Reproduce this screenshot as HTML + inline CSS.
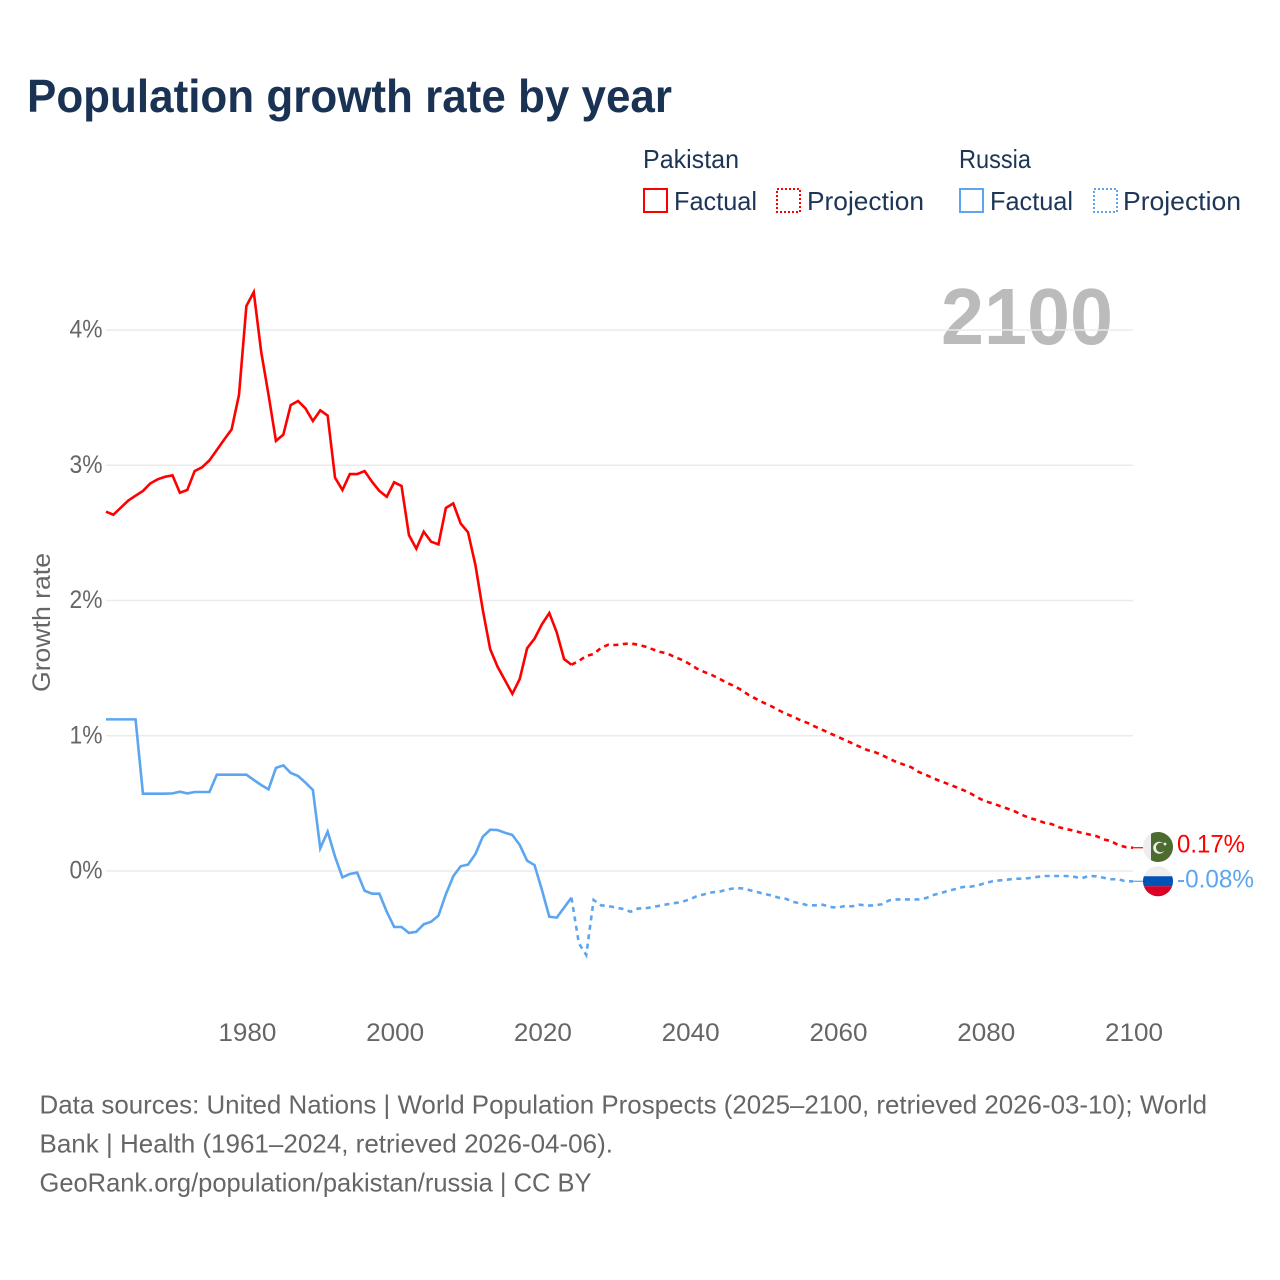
<!DOCTYPE html>
<html lang="en">
<head>
<meta charset="utf-8">
<title>Population growth rate by year</title>
<style>
html,body{margin:0;padding:0;background:#fff;}
svg{display:block;font-family:"Liberation Sans",sans-serif;}
</style>
</head>
<body>
<svg id="chart" width="1280" height="1280" viewBox="0 0 1280 1280" xmlns="http://www.w3.org/2000/svg">
  <rect width="1280" height="1280" fill="#fff"/>
  <text x="27" y="112" font-size="46" font-weight="700" fill="#1a3354" textLength="645" lengthAdjust="spacingAndGlyphs">Population growth rate by year</text>

  <g font-size="26" fill="#1d3557">
    <text x="643" y="168" textLength="96" lengthAdjust="spacingAndGlyphs">Pakistan</text>
    <text x="959" y="168" textLength="72" lengthAdjust="spacingAndGlyphs">Russia</text>
    <g>
      <rect x="644" y="189" width="23" height="23" fill="none" stroke="#ff0000" stroke-width="2"/>
      <text x="674" y="210" textLength="83" lengthAdjust="spacingAndGlyphs">Factual</text>
    </g>
    <g>
      <rect x="777" y="189" width="23" height="23" fill="none" stroke="#ff0000" stroke-width="2" stroke-dasharray="2 2"/>
      <text x="807" y="210" textLength="117" lengthAdjust="spacingAndGlyphs">Projection</text>
    </g>
    <g>
      <rect x="960" y="189" width="23" height="23" fill="none" stroke="#5ba6ef" stroke-width="2"/>
      <text x="990" y="210" textLength="83" lengthAdjust="spacingAndGlyphs">Factual</text>
    </g>
    <g>
      <rect x="1094" y="189" width="23" height="23" fill="none" stroke="#5ba6ef" stroke-width="2" stroke-dasharray="2 2"/>
      <text x="1123" y="210" textLength="118" lengthAdjust="spacingAndGlyphs">Projection</text>
    </g>
  </g>

  <text x="941" y="344" font-size="80" font-weight="700" fill="#bbbbbb" textLength="172" lengthAdjust="spacingAndGlyphs">2100</text>
  <text transform="translate(50,692) rotate(-90)" font-size="25" fill="#666666" textLength="139" lengthAdjust="spacingAndGlyphs">Growth rate</text>

  <g id="grid"></g>
  <g id="yticks"></g>
  <g id="xticks"></g>
  <g id="series"></g>
  <g id="endmarks"></g>

  <g font-size="26" fill="#666666">
    <text x="39.5" y="1113.5" textLength="1167.5" lengthAdjust="spacingAndGlyphs">Data sources: United Nations | World Population Prospects (2025–2100, retrieved 2026-03-10); World</text>
    <text x="39.5" y="1152.5" textLength="573.5" lengthAdjust="spacingAndGlyphs">Bank | Health (1961–2024, retrieved 2026-04-06).</text>
    <text x="39.5" y="1191.5" textLength="552" lengthAdjust="spacingAndGlyphs">GeoRank.org/population/pakistan/russia | CC BY</text>
  </g>
</svg>

<script>
const yTickValues = [0, 1, 2, 3, 4];
const yTickLabels = ["0%", "1%", "2%", "3%", "4%"];
const xTickYears = [1980, 2000, 2020, 2040, 2060, 2080, 2100];
const xTickLabels = ["1980", "2000", "2020", "2040", "2060", "2080", "2100"];

const factualYears = [1961,1962,1963,1964,1965,1966,1967,1968,1969,1970,1971,1972,1973,1974,1975,1976,1977,1978,1979,1980,1981,1982,1983,1984,1985,1986,1987,1988,1989,1990,1991,1992,1993,1994,1995,1996,1997,1998,1999,2000,2001,2002,2003,2004,2005,2006,2007,2008,2009,2010,2011,2012,2013,2014,2015,2016,2017,2018,2019,2020,2021,2022,2023,2024];
const projectionYears = [2024,2025,2026,2027,2028,2029,2030,2031,2032,2033,2034,2035,2036,2037,2038,2039,2040,2041,2042,2043,2044,2045,2046,2047,2048,2049,2050,2051,2052,2053,2054,2055,2056,2057,2058,2059,2060,2061,2062,2063,2064,2065,2066,2067,2068,2069,2070,2071,2072,2073,2074,2075,2076,2077,2078,2079,2080,2081,2082,2083,2084,2085,2086,2087,2088,2089,2090,2091,2092,2093,2094,2095,2096,2097,2098,2099,2100];

const pakistanFactual = [2.657,2.634,2.686,2.738,2.775,2.81,2.866,2.896,2.915,2.925,2.797,2.817,2.957,2.985,3.036,3.113,3.19,3.265,3.52,4.177,4.28,3.84,3.52,3.18,3.226,3.445,3.475,3.42,3.327,3.406,3.367,2.908,2.817,2.935,2.935,2.957,2.878,2.81,2.767,2.874,2.847,2.484,2.383,2.509,2.435,2.415,2.684,2.718,2.57,2.504,2.262,1.93,1.64,1.51,1.41,1.31,1.42,1.647,1.718,1.824,1.907,1.765,1.567,1.525];
const pakistanProjection = [1.525,1.553,1.59,1.604,1.65,1.673,1.671,1.678,1.683,1.673,1.659,1.639,1.62,1.607,1.582,1.56,1.53,1.496,1.471,1.449,1.422,1.392,1.368,1.338,1.301,1.272,1.244,1.22,1.19,1.163,1.141,1.114,1.094,1.067,1.043,1.018,0.993,0.969,0.944,0.919,0.895,0.88,0.858,0.83,0.806,0.786,0.767,0.732,0.71,0.685,0.663,0.643,0.621,0.599,0.574,0.542,0.515,0.5,0.48,0.461,0.441,0.414,0.392,0.377,0.357,0.347,0.323,0.31,0.298,0.283,0.271,0.259,0.234,0.222,0.192,0.177,0.172];
const russiaFactual = [1.121,1.121,1.121,1.121,1.121,0.572,0.572,0.572,0.572,0.574,0.586,0.574,0.584,0.584,0.584,0.712,0.712,0.712,0.712,0.712,0.673,0.636,0.604,0.762,0.781,0.725,0.702,0.653,0.599,0.168,0.291,0.106,-0.047,-0.022,-0.012,-0.146,-0.168,-0.168,-0.301,-0.414,-0.414,-0.458,-0.449,-0.394,-0.375,-0.33,-0.172,-0.039,0.035,0.047,0.126,0.254,0.305,0.303,0.283,0.266,0.192,0.076,0.044,-0.14,-0.338,-0.345,-0.271,-0.197];
const russiaProjection = [-0.197,-0.535,-0.621,-0.214,-0.254,-0.259,-0.271,-0.281,-0.301,-0.278,-0.276,-0.266,-0.256,-0.246,-0.237,-0.227,-0.21,-0.185,-0.172,-0.158,-0.153,-0.138,-0.128,-0.128,-0.14,-0.153,-0.168,-0.18,-0.197,-0.205,-0.229,-0.239,-0.254,-0.254,-0.249,-0.266,-0.271,-0.259,-0.261,-0.249,-0.256,-0.254,-0.246,-0.217,-0.21,-0.21,-0.21,-0.21,-0.2,-0.177,-0.163,-0.146,-0.133,-0.118,-0.116,-0.106,-0.089,-0.076,-0.069,-0.064,-0.057,-0.057,-0.052,-0.044,-0.037,-0.037,-0.037,-0.037,-0.042,-0.054,-0.037,-0.039,-0.05,-0.061,-0.061,-0.076,-0.076];

const pakistanEndLabel = "0.17%";
const russiaEndLabel = "-0.08%";

const SVG_NS = "http://www.w3.org/2000/svg";
const PLOT_LEFT = 106, PLOT_RIGHT = 1133, YEAR_MIN = 1961, YEAR_MAX = 2100;
const Y_ZERO = 871, PX_PER_PERCENT = 135.25;
const RED = "#ff0000", BLUE = "#5ba6ef";

function xScale(year) {
  return PLOT_LEFT + (year - YEAR_MIN) * (PLOT_RIGHT - PLOT_LEFT) / (YEAR_MAX - YEAR_MIN);
}
function yScale(value) {
  return Y_ZERO - value * PX_PER_PERCENT;
}
function make(tag, attrs, parent, text) {
  const el = document.createElementNS(SVG_NS, tag);
  for (const key in attrs) el.setAttribute(key, attrs[key]);
  if (text !== undefined) el.textContent = text;
  parent.appendChild(el);
  return el;
}
function linePoints(years, values) {
  return years.map((yr, i) => xScale(yr).toFixed(2) + "," + yScale(values[i]).toFixed(2)).join(" ");
}

const gridGroup = document.getElementById("grid");
const yTickGroup = document.getElementById("yticks");
yTickValues.forEach((v, i) => {
  const line = make("line", {x1: PLOT_LEFT, x2: PLOT_RIGHT, y1: yScale(v), y2: yScale(v), stroke: "#ebebeb", "stroke-width": 1.5}, gridGroup);
  
  
  const label = make("text", {x: 102.5, y: yScale(v) + 7.5, "text-anchor": "end", "font-size": 25, fill: "#666666", textLength: 33, lengthAdjust: "spacingAndGlyphs"}, yTickGroup, yTickLabels[i]);
  
  
});

const xTickGroup = document.getElementById("xticks");
xTickYears.forEach((yr, i) => {
  const label = make("text", {x: xScale(yr) + 1, y: 1041, "text-anchor": "middle", "font-size": 25, fill: "#666666", textLength: 58, lengthAdjust: "spacingAndGlyphs"}, xTickGroup, xTickLabels[i]);
  
  
});

const seriesGroup = document.getElementById("series");

const pakFactualLine = make("polyline", {points: linePoints(factualYears, pakistanFactual), fill: "none", stroke: RED, "stroke-width": 2.6, "stroke-linejoin": "miter"}, seriesGroup);



const pakProjLine = make("polyline", {points: linePoints(projectionYears, pakistanProjection), fill: "none", stroke: RED, "stroke-width": 2.6, "stroke-dasharray": "5 4.5"}, seriesGroup);



const rusFactualLine = make("polyline", {points: linePoints(factualYears, russiaFactual), fill: "none", stroke: BLUE, "stroke-width": 2.6}, seriesGroup);



const rusProjLine = make("polyline", {points: linePoints(projectionYears, russiaProjection), fill: "none", stroke: BLUE, "stroke-width": 2.6, "stroke-dasharray": "5 4.5"}, seriesGroup);



const endGroup = document.getElementById("endmarks");
const FLAG_X = 1158, FLAG_R = 15;
const pakEndY = yScale(pakistanProjection[pakistanProjection.length - 1]);
const rusEndY = yScale(russiaProjection[russiaProjection.length - 1]);

const pakConnector = make("line", {x1: PLOT_RIGHT, x2: FLAG_X - FLAG_R, y1: pakEndY, y2: pakEndY, stroke: RED, "stroke-width": 1.2}, endGroup);



const rusConnector = make("line", {x1: PLOT_RIGHT, x2: FLAG_X - FLAG_R, y1: rusEndY, y2: rusEndY, stroke: BLUE, "stroke-width": 1.2}, endGroup);



/* Pakistan flag */
const pakFlag = make("g", {transform: "translate(" + FLAG_X + "," + (pakEndY - 0.7) + ")"}, endGroup);


make("circle", {r: FLAG_R, fill: "#eeeeee"}, pakFlag);
make("path", {d: "M-7,-13.27 A15,15 0 1 1 -7,13.27 Z", fill: "#4c6b2f"}, pakFlag);
make("path", {d: "M5.5,-3.5 A6,6 0 1 0 6.5,3.5 A4.8,4.8 0 1 1 5.5,-3.5 Z", fill: "#eeeeee"}, pakFlag);
make("circle", {cx: 7, cy: -3, r: 1.4, fill: "#eeeeee"}, pakFlag);

/* Russia flag */
const rusFlag = make("g", {transform: "translate(" + FLAG_X + "," + rusEndY + ")"}, endGroup);


make("circle", {r: FLAG_R, fill: "#eeeeee"}, rusFlag);
make("path", {d: "M-14.14,-5 L14.14,-5 A15,15 0 0 1 14.14,5 L-14.14,5 A15,15 0 0 1 -14.14,-5 Z", fill: "#0052b4"}, rusFlag);
make("path", {d: "M-14.14,5 L14.14,5 A15,15 0 0 1 -14.14,5 Z", fill: "#d80027"}, rusFlag);

const pakLabel = make("text", {x: 1177, y: pakEndY + 5, "font-size": 25, fill: RED, textLength: 68, lengthAdjust: "spacingAndGlyphs"}, endGroup, pakistanEndLabel);



const rusLabel = make("text", {x: 1177, y: rusEndY + 6, "font-size": 25, fill: BLUE, textLength: 77, lengthAdjust: "spacingAndGlyphs"}, endGroup, russiaEndLabel);


</script>
</body>
</html>
